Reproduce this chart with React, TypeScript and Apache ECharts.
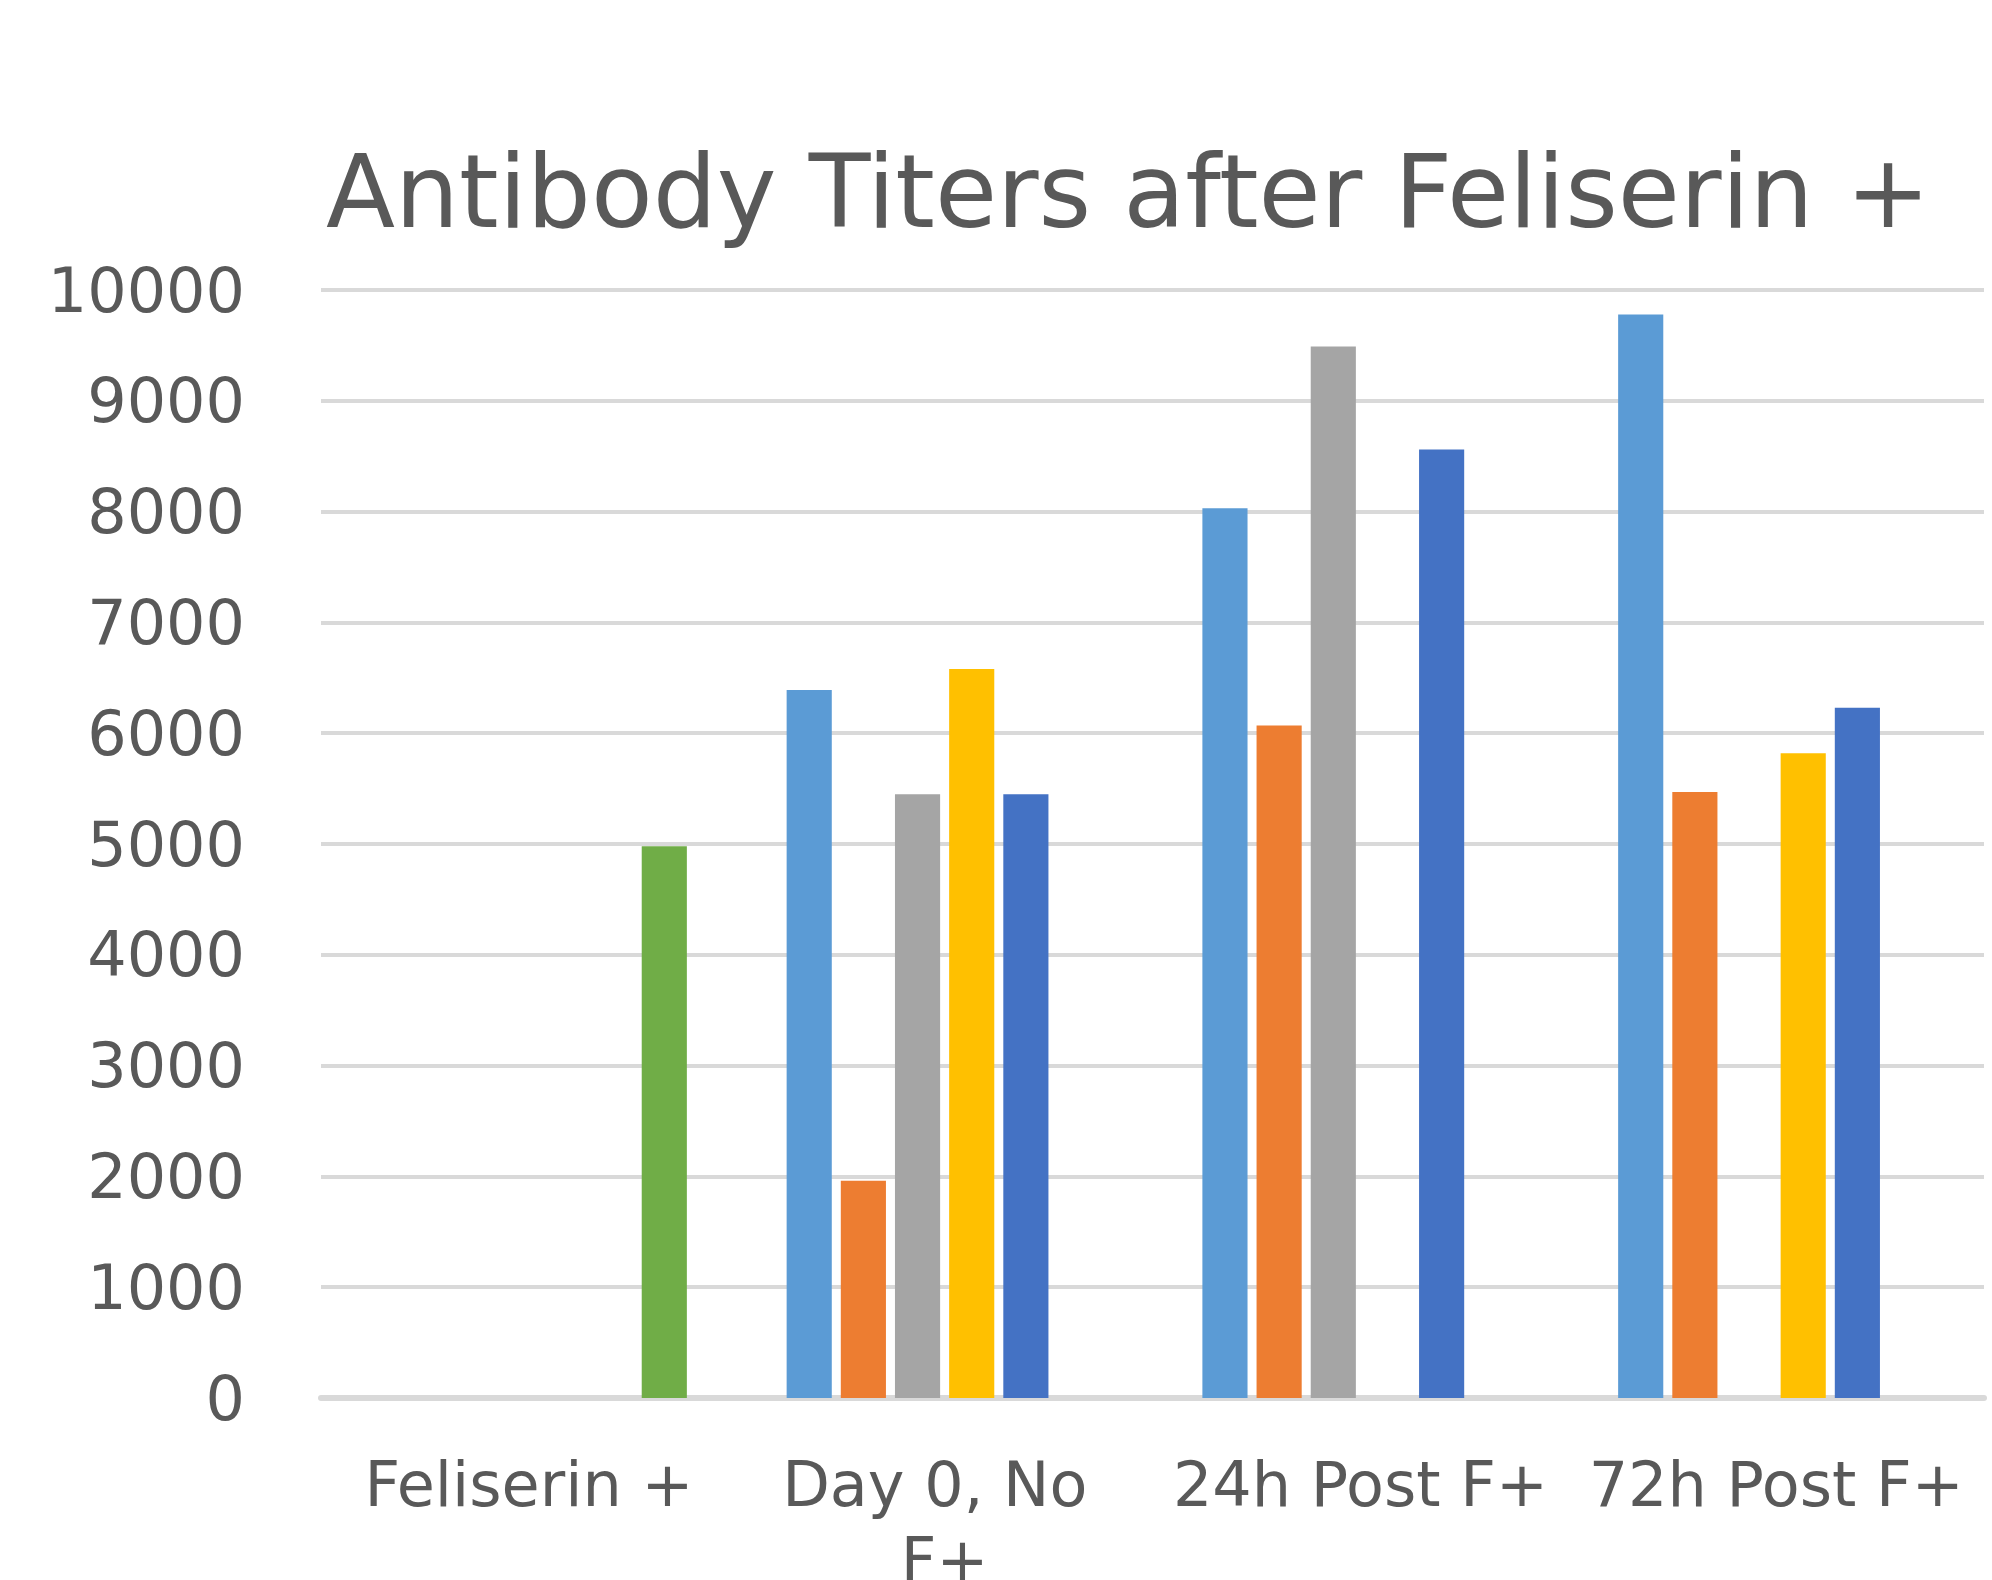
import React, { useEffect, useRef } from "react";
import * as echarts from "echarts";

const titleText = "Antibody Titers after Feliserin +";
const categories = ["Feliserin +", "Day 0, No F+", "24h Post F+", "72h Post F+"];
const seriesNames = ["Series 1", "Series 2", "Series 3", "Series 4", "Series 5", "Series 6"];
const seriesColors = ["#5B9BD5", "#ED7D31", "#A5A5A5", "#FFC000", "#4472C4", "#70AD47"];
const series1 = [null, 6390, 8030, 9780];
const series2 = [null, 1960, 6070, 5470];
const series3 = [null, 5450, 9490, null];
const series4 = [null, 6580, null, 5820];
const series5 = [null, 5450, 8560, 6230];
const series6 = [4980, null, null, null];
const allSeries = [series1, series2, series3, series4, series5, series6];

const FONT = "DejaVu Sans";

export default function App() {
  const ref = useRef<HTMLDivElement>(null);
  useEffect(() => {
    if (!ref.current) return;
    const chart = echarts.init(ref.current, undefined, { renderer: "svg" });
    chart.setOption({
      animation: false,
      backgroundColor: "#ffffff",
      title: {
        text: titleText,
        left: 321,
        top: 136,
        textStyle: { fontFamily: FONT, fontSize: 101, fontWeight: "normal", color: "#595959" },
      },
      grid: {
        left: 321,
        right: 8,
        top: 290,
        bottom: 1580 - 1398,
        containLabel: false,
        outerBoundsMode: "none",
      },
      xAxis: {
        type: "category",
        data: categories,
        axisLine: { show: true, lineStyle: { color: "#D9D9D9", width: 6 } },
        axisTick: { show: false },
        splitLine: { show: false },
        axisLabel: {
          interval: 0,
          margin: 48,
          fontFamily: FONT,
          fontSize: 62,
          lineHeight: 76,
          color: "#595959",
          width: 390,
          overflow: "break",
        },
      },
      yAxis: {
        type: "value",
        min: 0,
        max: 10000,
        interval: 1000,
        axisLine: { show: false },
        axisTick: { show: false },
        splitLine: { show: true, lineStyle: { color: "#D9D9D9", width: 4 } },
        axisLabel: {
          margin: 76,
          fontFamily: FONT,
          fontSize: 62,
          color: "#595959",
          formatter: (v: number) => String(v),
        },
      },
      series: allSeries.map((d, i) => ({
        name: seriesNames[i],
        type: "bar",
        data: d,
        itemStyle: { color: seriesColors[i] },
        barGap: "20%",
        barCategoryGap: "24%",
      })),
    });
    return () => chart.dispose();
  }, []);
  return (
    <div
      ref={ref}
      style={{ position: "fixed", left: 0, top: 0, width: 1992, height: 1580 }}
    />
  );
}
